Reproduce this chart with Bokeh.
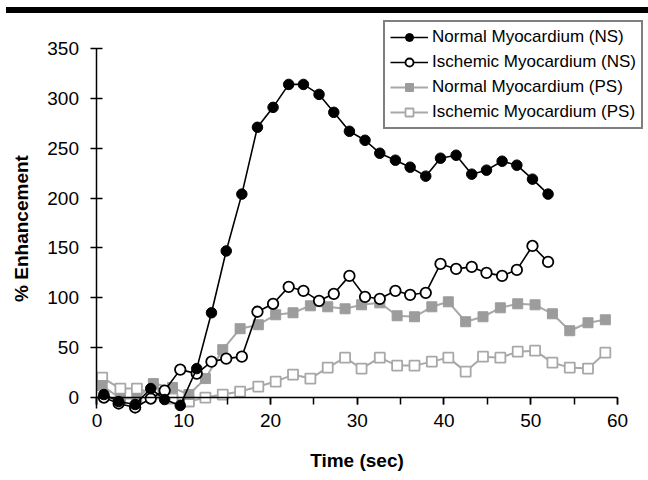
from bokeh.plotting import figure
from bokeh.models import Range1d, FixedTicker, SingleIntervalTicker, Legend, LegendItem, Div
from bokeh.layouts import column
from bokeh.embed import file_html
from bokeh.resources import INLINE

# ---- data ----
ns_time = [0.8, 2.5, 4.4, 6.2, 7.8, 9.6, 11.5, 13.2, 14.9, 16.7, 18.5, 20.3, 22.1, 23.8, 25.6,
           27.3, 29.1, 30.9, 32.6, 34.4, 36.1, 37.9, 39.6, 41.4, 43.2, 44.9, 46.7, 48.4, 50.2, 52.0]
normal_ns = [3, -4, -7, 9, -2, -8, 29, 85, 147, 204, 271, 291, 314, 314, 304,
             286, 267, 258, 245, 238, 231, 222, 240, 243, 224, 228, 237, 233, 219, 204]
ischemic_ns = [0, -6, -10, -1, 7, 28, 24, 36, 39, 41, 86, 94, 111, 107, 97,
               104, 122, 101, 99, 107, 103, 105, 134, 129, 131, 125, 122, 128, 152, 136]

ps_time = [0.6, 2.7, 4.6, 6.5, 8.7, 10.6, 12.5, 14.5, 16.5, 18.6, 20.6, 22.6, 24.6, 26.6, 28.6,
           30.5, 32.6, 34.6, 36.6, 38.6, 40.5, 42.5, 44.5, 46.5, 48.5, 50.5, 52.5, 54.5, 56.6, 58.6]
normal_ps = [12, -1, -1, 14, 10, 3, 19, 48, 69, 73, 83, 85, 92, 91, 89,
             93, 95, 82, 81, 91, 96, 76, 81, 90, 94, 93, 84, 67, 75, 78]
ischemic_ps = [20, 9, 9, 4, -1, -4, 0, 3, 6, 11, 16, 23, 19, 30, 40,
               29, 40, 32, 32, 36, 40, 26, 41, 40, 46, 47, 35, 30, 29, 45]

y_ticks = [0, 50, 100, 150, 200, 250, 300, 350]
labels = ["Normal Myocardium (NS)", "Ischemic Myocardium (NS)",
          "Normal Myocardium (PS)", "Ischemic Myocardium (PS)"]

FONT = "Liberation Sans"
GRAY_FILL = "#9c9c9c"
GRAY_LINE = "#a8a8a8"

p = figure(width=648, height=467, x_range=Range1d(-11.12, 63.46), y_range=Range1d(-83.2, 380.1),
           output_backend="svg", toolbar_location=None,
           min_border_left=0, min_border_right=1, min_border_top=5, min_border_bottom=0)
p.outline_line_color = None
p.xgrid.visible = False
p.ygrid.visible = False
p.background_fill_color = "white"
p.border_fill_color = "white"

# PS series (gray) first so NS draw on top
l_ips = p.line(ps_time, ischemic_ps, line_color=GRAY_LINE, line_width=2)
m_ips = p.scatter(ps_time, ischemic_ps, marker="square", size=10, fill_color="white",
                  line_color=GRAY_LINE, line_width=1.8)
l_nps = p.line(ps_time, normal_ps, line_color=GRAY_LINE, line_width=2)
m_nps = p.scatter(ps_time, normal_ps, marker="square", size=10, fill_color=GRAY_FILL,
                  line_color=GRAY_FILL, line_width=1)
l_ins = p.line(ns_time, ischemic_ns, line_color="black", line_width=1.6)
m_ins = p.scatter(ns_time, ischemic_ns, marker="circle", size=10.5, fill_color="white",
                  line_color="black", line_width=1.8)
l_nns = p.line(ns_time, normal_ns, line_color="black", line_width=1.6)
m_nns = p.scatter(ns_time, normal_ns, marker="circle", size=10.5, fill_color="black",
                  line_color="black", line_width=1)

# axes (both fixed at the origin, drawn inside the frame)
xa = p.xaxis[0]
xa.fixed_location = 0
xa.bounds = (0, 60)
xa.ticker = SingleIntervalTicker(interval=10, num_minor_ticks=2)
xa.major_tick_in = 0
xa.major_tick_out = 7
xa.minor_tick_in = 0
xa.minor_tick_out = 7
xa.minor_tick_line_color = "black"
xa.minor_tick_line_width = 1.5
xa.major_tick_line_width = 1.5
xa.axis_line_width = 1.5
xa.axis_line_color = "black"
xa.major_label_text_font = FONT
xa.major_label_text_font_size = "19px"
xa.major_label_text_color = "black"
xa.major_label_standoff = 9
xa.axis_label = "Time (sec)"
xa.axis_label_text_font = FONT
xa.axis_label_text_font_style = "bold"
xa.axis_label_text_font_size = "19px"
xa.axis_label_text_color = "black"
xa.axis_label_standoff = 20

ya = p.yaxis[0]
ya.fixed_location = 0
ya.bounds = (-11, 350)
ya.ticker = FixedTicker(ticks=y_ticks)
ya.major_tick_in = 6
ya.major_tick_out = 6
ya.minor_tick_in = 0
ya.minor_tick_out = 0
ya.major_tick_line_width = 1.5
ya.axis_line_width = 1.5
ya.axis_line_color = "black"
ya.major_label_text_font = FONT
ya.major_label_text_font_size = "19px"
ya.major_label_text_color = "black"
ya.major_label_standoff = 12
ya.axis_label = "% Enhancement"
ya.axis_label_text_font = FONT
ya.axis_label_text_font_style = "bold"
ya.axis_label_text_font_size = "19px"
ya.axis_label_text_color = "black"
ya.axis_label_standoff = 12

legend = Legend(items=[
    LegendItem(label=labels[0], renderers=[l_nns, m_nns]),
    LegendItem(label=labels[1], renderers=[l_ins, m_ins]),
    LegendItem(label=labels[2], renderers=[l_nps, m_nps]),
    LegendItem(label=labels[3], renderers=[l_ips, m_ips]),
], location=(383, 351))
legend.border_line_color = "black"
legend.border_line_width = 2
legend.background_fill_color = "white"
legend.background_fill_alpha = 1
legend.padding = 5
legend.spacing = 5
legend.margin = 0
legend.glyph_width = 38
legend.glyph_height = 20
legend.label_height = 20
legend.label_standoff = 4
legend.label_text_font = FONT
legend.label_text_font_size = "17px"
legend.label_text_color = "black"
p.add_layout(legend)

bar = Div(text="", width=642, height=6, margin=(7, 0, 0, 6),
          styles={"background-color": "black"})

layout = column(bar, p, spacing=0)
open("out.html", "w").write(file_html(layout, INLINE))
